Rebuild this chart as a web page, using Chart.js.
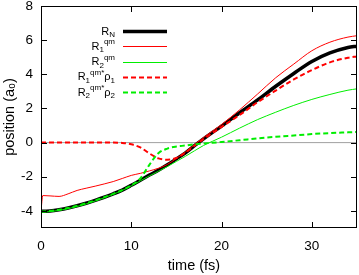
<!DOCTYPE html>
<html>
<head>
<meta charset="utf-8">
<script src="https://cdn.jsdelivr.net/npm/chart.js@4"></script>
<style>
  html, body { margin: 0; padding: 0; background: #fff; }
</style>
</head>
<body>
<canvas id="posChart" width="359" height="275"></canvas>
<script>
// time axis (fs)
let times = [0, 0.2, 1, 2, 3, 4, 5, 6, 7, 8, 9, 10, 11, 12, 13, 14, 15, 16, 17, 18, 19, 20, 22, 24, 26, 28, 30, 32, 34, 35];
// position curves (a0)
let rN   = [-4.02, -4.02, -4.0, -3.93, -3.83, -3.7, -3.55, -3.38, -3.2, -3.0, -2.78, -2.5, -2.2, -1.9, -1.62, -1.3, -0.95, -0.6, -0.18, 0.22, 0.6, 0.97, 1.75, 2.5, 3.3, 4.05, 4.75, 5.25, 5.57, 5.65];
let r1qm = [-4.0, -3.1, -3.12, -3.15, -3.0, -2.8, -2.67, -2.55, -2.42, -2.28, -2.1, -1.92, -1.8, -1.66, -1.5, -1.28, -0.92, -0.55, -0.12, 0.3, 0.68, 1.06, 1.92, 2.85, 3.8, 4.6, 5.38, 5.88, 6.18, 6.26];
let r2qm = [-4.07, -4.07, -4.04, -3.97, -3.87, -3.74, -3.59, -3.42, -3.23, -3.02, -2.8, -2.53, -2.24, -1.95, -1.68, -1.4, -1.1, -0.8, -0.48, -0.17, 0.08, 0.32, 0.85, 1.35, 1.78, 2.18, 2.53, 2.82, 3.07, 3.15];
let r1rho = [0, 0, 0, 0, 0, 0, 0, 0, 0, 0, -0.02, -0.1, -0.28, -0.63, -0.92, -1.0, -0.9, -0.58, -0.18, 0.2, 0.57, 0.92, 1.62, 2.37, 3.05, 3.7, 4.25, 4.7, 4.97, 5.05];
let r2rho = [-4.03, -4.03, -4.0, -3.93, -3.83, -3.7, -3.55, -3.38, -3.2, -3.0, -2.78, -2.5, -2.1, -1.3, -0.62, -0.35, -0.23, -0.17, -0.1, -0.05, -0.01, 0.04, 0.14, 0.25, 0.34, 0.42, 0.5, 0.56, 0.6, 0.62];
let zeroX = [0, 35];
let zeroY = [0, 0];

let xTicks = [0, 10, 20, 30];
let yTicks = [-4, -2, 0, 2, 4, 6, 8];

// legend entries: pieces are [text, 'n' | 'sub' | 'sup']
let legendItems = [
    { parts: [['R', 'n'], ['N', 'sub']], color: '#000000', width: 3.5, dash: [] },
    { parts: [['R', 'n'], ['1', 'sub'], ['qm', 'sup']], color: '#ff0000', width: 1, dash: [] },
    { parts: [['R', 'n'], ['2', 'sub'], ['qm', 'sup']], color: '#00ee00', width: 1, dash: [] },
    { parts: [['R', 'n'], ['1', 'sub'], ['qm*', 'sup'], ['\u03c1', 'n'], ['1', 'sub']], color: '#ff0000', width: 2, dash: [5, 3] },
    { parts: [['R', 'n'], ['2', 'sub'], ['qm*', 'sup'], ['\u03c1', 'n'], ['2', 'sub']], color: '#00ee00', width: 2, dash: [5, 3] }
];

const FONT = '"Liberation Sans", Arial, sans-serif';
Chart.defaults.font.family = FONT;

function pts(ys, xs) {
    return (xs || times).map((x, i) => ({ x: x, y: ys[i] }));
}

function line(data, color, width, dash, order) {
    return {
        data: data,
        borderColor: color,
        borderWidth: width,
        borderDash: dash,
        pointRadius: 0,
        cubicInterpolationMode: 'monotone',
        fill: false,
        order: order
    };
}

function drawParts(ctx, parts, right, baseY) {
    let fonts = { n: '11px ' + FONT, sub: '8px ' + FONT, sup: '8px ' + FONT };
    let shift = { n: 0, sub: 2.5, sup: -5.5 };
    let total = 0;
    parts.forEach(p => { ctx.font = fonts[p[1]]; total += ctx.measureText(p[0]).width; });
    let x = right - total;
    ctx.textAlign = 'left';
    ctx.textBaseline = 'alphabetic';
    parts.forEach(p => {
        ctx.font = fonts[p[1]];
        ctx.fillText(p[0], x, baseY + shift[p[1]]);
        x += ctx.measureText(p[0]).width;
    });
}

const framePlugin = {
    id: 'frame',
    afterDraw(chart) {
        let ctx = chart.ctx;
        let a = chart.chartArea;
        let xs = chart.scales.x, ys = chart.scales.y;
        ctx.save();
        ctx.strokeStyle = '#000';
        ctx.lineWidth = 1;
        ctx.strokeRect(Math.round(a.left) + 0.5, Math.round(a.top) + 0.5, Math.round(a.right - a.left) - 1, Math.round(a.bottom - a.top) - 1);
        ctx.beginPath();
        xTicks.forEach(v => {
            let px = Math.round(xs.getPixelForValue(v)) + 0.5;
            ctx.moveTo(px, a.bottom); ctx.lineTo(px, a.bottom - 6);
            ctx.moveTo(px, a.top); ctx.lineTo(px, a.top + 6);
        });
        yTicks.forEach(v => {
            let py = Math.round(ys.getPixelForValue(v)) + 0.5;
            ctx.moveTo(a.left, py); ctx.lineTo(a.left + 6, py);
            ctx.moveTo(a.right, py); ctx.lineTo(a.right - 6, py);
        });
        ctx.stroke();

        // axis titles
        ctx.fillStyle = '#000';
        ctx.font = '14.5px ' + FONT;
        ctx.textAlign = 'center';
        ctx.textBaseline = 'middle';
        ctx.fillText('time (fs)', 194, 266);
        ctx.save();
        ctx.translate(10, 117);
        ctx.rotate(-Math.PI / 2);
        ctx.fillText('position (a\u2080)', 0, 0);
        ctx.restore();

        // legend
        legendItems.forEach((it, i) => {
            let y = 31 + i * 15.3;
            ctx.fillStyle = '#000';
            drawParts(ctx, it.parts, 115, y + 3.5);
            ctx.beginPath();
            ctx.strokeStyle = it.color;
            ctx.lineWidth = it.width;
            ctx.setLineDash(it.dash);
            ctx.moveTo(123, Math.round(y) + 0.5);
            ctx.lineTo(167, Math.round(y) + 0.5);
            ctx.stroke();
            ctx.setLineDash([]);
        });
        ctx.restore();
    }
};

new Chart(document.getElementById('posChart'), {
    type: 'line',
    data: {
        datasets: [
            line(pts(zeroY, zeroX), '#a0a0a0', 1, [], 10),
            line(pts(rN), '#000000', 3.5, [], 6),
            line(pts(r1qm), '#ff0000', 1, [], 5),
            line(pts(r2qm), '#00ee00', 1, [], 4),
            line(pts(r1rho), '#ff0000', 2, [5, 3], 3),
            line(pts(r2rho), '#00ee00', 2, [5, 3], 2)
        ]
    },
    options: {
        responsive: false,
        animation: false,
        devicePixelRatio: 1,
        layout: { padding: { top: 6, right: 2, left: 0, bottom: 0 } },
        plugins: { legend: { display: false }, tooltip: { enabled: false } },
        scales: {
            x: {
                type: 'linear',
                min: 0, max: 35,
                afterFit: s => { s.height = 47; s.paddingLeft = 0; s.paddingRight = 0; },
                afterBuildTicks: s => { s.ticks = xTicks.map(v => ({ value: v })); },
                grid: { display: false, drawTicks: false },
                border: { display: false },
                ticks: { color: '#000', font: { size: 13.5 }, padding: 10, maxRotation: 0 }
            },
            y: {
                type: 'linear',
                min: -5, max: 8,
                afterFit: s => { s.width = 41; s.paddingTop = 0; s.paddingBottom = 0; },
                afterBuildTicks: s => { s.ticks = yTicks.map(v => ({ value: v })); },
                grid: { display: false, drawTicks: false },
                border: { display: false },
                ticks: { color: '#000', font: { size: 13.5 }, padding: 8 }
            }
        }
    },
    plugins: [framePlugin]
});
</script>
</body>
</html>
